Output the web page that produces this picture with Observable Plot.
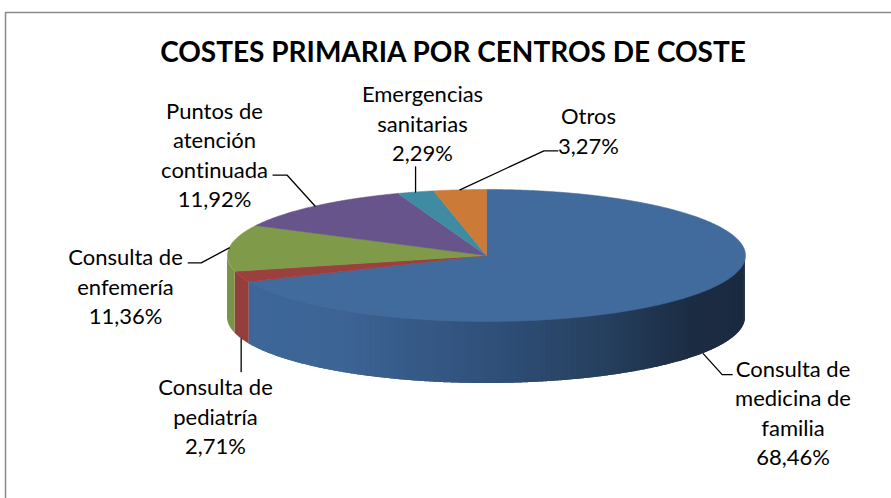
<!DOCTYPE html>
<html><head><meta charset="utf-8">
<script src="https://cdn.jsdelivr.net/npm/d3@7"></script>
<script src="https://cdn.jsdelivr.net/npm/@observablehq/plot@0.6"></script>
<style>
html,body{margin:0;padding:0;background:#fff;overflow:hidden;}
#chart svg{display:block;}
#chart text{font-variant-ligatures:none;font-feature-settings:"liga" 0,"clig" 0;}
</style></head><body><div id="chart"></div>
<script>
// ---- data ----
const titleText = "COSTES PRIMARIA POR CENTROS DE COSTE";
const categories = ["Consulta de medicina de familia", "Consulta de pediatría", "Consulta de enfemería",
  "Puntos de atención continuada", "Emergencias sanitarias", "Otros"];
const values = [68.46, 2.71, 11.36, 11.92, 2.29, 3.27];
const labelLines = ["Consulta de\nmedicina de\nfamilia", "Consulta de\npediatría", "Consulta de\nenfemería",
  "Puntos de\natención\ncontinuada", "Emergencias\nsanitarias", "Otros"];

// ---- styles ----
const topColors = ["#416B9C", "#9A403E", "#7F9A48", "#67548A", "#3F8CA2", "#CB7A38"];
const sideColors = [null, "#953F3D", "#7A9447", "#61507F", "#3A8196", "#BC7034"];
const blueSide = d3.scaleLinear().domain([248, 340, 490, 600, 690, 745])
  .range(["#3E6799", "#3C6495", "#30507A", "#26405F", "#1C2C44", "#1B2A3F"]).clamp(true);

// ---- layout ----
const W = 891, H = 498;
const CX = 486, CY = 255, RX = 259, RY = 66, DEPTH = 62;
const FS = 22, LH = 1.34;
// label centre and leader offsets relative to the slice's edge point
const labelLayout = [
  {x: 792.5, y: 411, leader: [[19, 21], [29, 21]]},
  {x: 215, y: 415, leader: [[0, 33]]},
  {x: 125, y: 285, leader: [[-28, 15], [-41, 15]]},
  {x: 214, y: 153, leader: [[-28, -31], [-42, -31]]},
  {x: 422, y: 122, leader: [[0, -25]]},
  {x: 588, y: 129, leader: [[84, -39], [98, -39]]}
];

const pt = (a, dz = 0) => [CX + RX * Math.sin(a), CY - RY * Math.cos(a) + dz];
const arcs = d3.pie().sort(null).value(d => d)(values);
const fmt = v => v.toFixed(2).replace(".", ",") + "%";

// top faces
const topRows = [];
arcs.forEach((a, i) => {
  const n = Math.max(2, Math.ceil((a.endAngle - a.startAngle) / 0.005));
  topRows.push({k: i, x: CX, y: CY, c: topColors[i]});
  for (let j = 0; j <= n; j++) {
    const t = a.startAngle + (a.endAngle - a.startAngle) * j / n;
    const [x, y] = pt(t);
    topRows.push({k: i, x, y, c: topColors[i]});
  }
  topRows.push({k: i, x: CX, y: CY, c: topColors[i]});
});

// side walls (front half only), split into overlapping thin strips for shading
const sideRows = [];
let seg = 0;
arcs.forEach((a, i) => {
  const s = Math.max(a.startAngle, Math.PI / 2), e = Math.min(a.endAngle, 3 * Math.PI / 2);
  if (e <= s) return;
  const n = i === 0 ? Math.max(1, Math.ceil((e - s) / 0.02)) : 1;
  const step = (e - s) / n;
  for (let j = 0; j < n; j++) {
    const t0 = s + step * j, t1 = Math.min(e, s + step * (j + 2));
    const col = i === 0 ? blueSide(pt(s + step * (j + 0.5))[0]) : sideColors[i];
    const m = Math.max(2, Math.ceil((t1 - t0) / 0.005));
    for (let q = 0; q <= m; q++) {
      const t = t0 + (t1 - t0) * q / m;
      const [x, y] = pt(t);
      sideRows.push({k: seg, x, y1: y, y2: y + DEPTH, c: col});
    }
    seg++;
  }
});

// labels and leaders
const labelRows = arcs.map((a, i) => ({
  x: labelLayout[i].x, y: labelLayout[i].y, text: labelLines[i] + "\n" + fmt(values[i]), name: categories[i]
}));
const leaderRows = [];
arcs.forEach((a, i) => {
  const m = (a.startAngle + a.endAngle) / 2;
  const front = Math.cos(m) < 0;
  const [ex, ey] = pt(m, front ? DEPTH : 0);
  leaderRows.push({k: i, x: ex, y: ey});
  labelLayout[i].leader.forEach(([dx, dy]) => leaderRows.push({k: i, x: ex + dx, y: ey + dy}));
});

const chart = Plot.plot({
  width: W, height: H, margin: 0,
  x: {domain: [0, W], range: [0, W], axis: null},
  y: {domain: [0, H], range: [0, H], axis: null},
  style: {fontFamily: "Lato, 'Open Sans', sans-serif", background: "#fff"},
  marks: [
    Plot.ruleX([5], {y1: 12, y2: H, stroke: "#8a8a8a", strokeWidth: 1.5}),
    Plot.ruleY([12], {x1: 5, x2: W, stroke: "#8a8a8a", strokeWidth: 1.5}),
    Plot.areaY(sideRows, {x: "x", y1: "y1", y2: "y2", z: "k", fill: "c", curve: "linear"}),
    Plot.line(topRows, {x: "x", y: "y", z: "k", fill: "c", stroke: "c", strokeWidth: 0.6, curve: "linear"}),
    Plot.line(leaderRows, {x: "x", y: "y", z: "k", stroke: "#000", strokeWidth: 1.3, curve: "linear"}),
    Plot.text(labelRows, {x: "x", y: "y", text: "text", fontSize: FS, lineHeight: LH, fill: "#000", textAnchor: "middle"}),
    Plot.text([titleText], {x: 452.5, y: 53, text: d => d, fontSize: 28, fontWeight: "bold", fill: "#000", textAnchor: "middle"})
  ]
});
document.getElementById("chart").append(chart);
</script></body></html>
